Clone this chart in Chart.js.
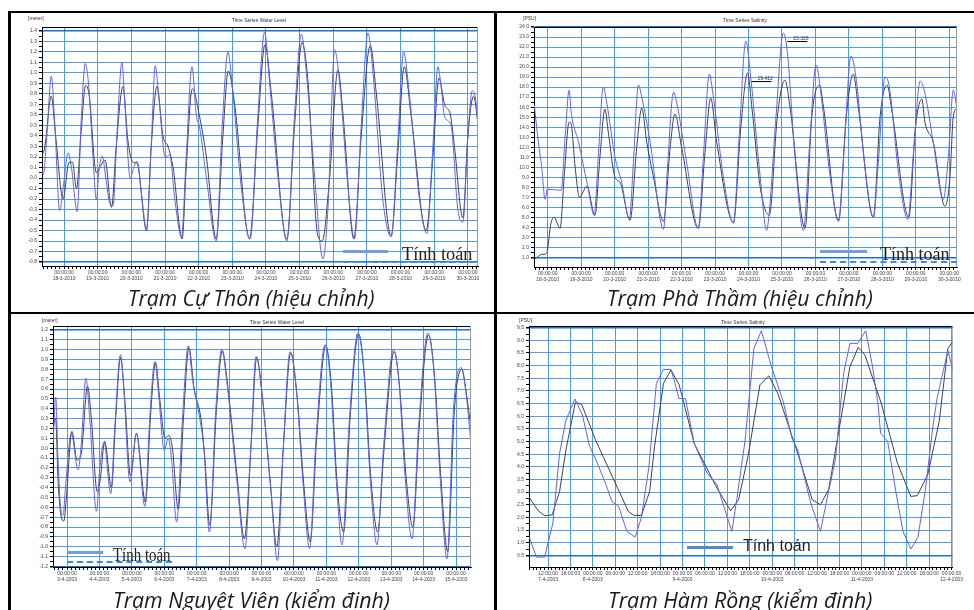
<!DOCTYPE html>
<html>
<head>
<meta charset="utf-8">
<script src="https://cdn.jsdelivr.net/npm/chart.js@4.4.1/dist/chart.umd.min.js"></script>
<style>
body { margin:0; width:974px; height:610px; position:relative; overflow:hidden; background:#fff; font-family:"Liberation Sans", Arial, sans-serif; }
.rule { position:absolute; background:#000; }
canvas { position:absolute; }
.title { position:absolute; font-size:5px; line-height:6px; color:#333; white-space:nowrap; transform:translateX(-50%); }
.unit { position:absolute; font-size:5px; line-height:6px; color:#333; white-space:nowrap; }
.cap { position:absolute; font-family:"Open Sans","Noto Sans",sans-serif; font-style:italic; font-size:22px; line-height:22px; color:#1a1a1a; white-space:nowrap; transform-origin:0 0; }
.lg-text { position:absolute; font-family:"Liberation Serif","DejaVu Serif",serif; font-size:18px; line-height:18px; color:#2a2010; white-space:nowrap; transform-origin:0 0; }
.lg-sans { position:absolute; font-family:"Liberation Sans",Arial,sans-serif; font-size:16px; line-height:16px; color:#222; white-space:nowrap; }
.lg-solid { position:absolute; height:3px; background:#6f9fe3; }
.lg-dash { position:absolute; height:0; border-top:2px dashed #2f8cf2; }
</style>
</head>
<body>
<canvas id="c1" width="470" height="264" style="left:12px;top:22px"></canvas>
<canvas id="c2" width="462" height="264" style="left:500px;top:22px"></canvas>
<canvas id="c3" width="463" height="268" style="left:12px;top:318px"></canvas>
<canvas id="c4" width="464" height="268" style="left:500px;top:318px"></canvas>

<div class="rule" style="left:8px;top:11px;width:3px;height:599px"></div>
<div class="rule" style="left:8px;top:11px;width:966px;height:2px"></div>
<div class="rule" style="left:494px;top:11px;width:3px;height:599px"></div>
<div class="rule" style="left:8px;top:312px;width:966px;height:2px"></div>

<div class="title" style="left:259px;top:17px">Time Series Water Level</div>
<div class="unit" style="left:28px;top:15px">[meter]</div>
<div class="title" style="left:745px;top:17px">Time Series Salinity</div>
<div class="unit" style="left:523px;top:15px">[PSU]</div>
<div class="title" style="left:277px;top:319px">Time Series Water Level</div>
<div class="unit" style="left:42px;top:317px">[meter]</div>
<div class="title" style="left:743px;top:319px">Time Series Salinity</div>
<div class="unit" style="left:519px;top:317px">[PSU]</div>

<div class="lg-solid" style="left:343px;top:250px;width:45px"></div>
<div class="lg-dash" style="left:343px;top:261px;width:132px"></div>
<div class="lg-text" data-w="71" style="left:402px;top:245px">Tính toán</div>

<div class="lg-solid" style="left:820px;top:250px;width:47px"></div>
<div class="lg-dash" style="left:820px;top:261px;width:137px"></div>
<div class="lg-text" data-w="70" style="left:880px;top:245px">Tính toán</div>

<div class="lg-solid" style="left:67px;top:551px;width:36px"></div>
<div class="lg-dash" style="left:67px;top:561px;width:105px"></div>
<div class="lg-text" data-w="58" style="left:113px;top:546px">Tính toán</div>

<div style="position:absolute;left:687px;top:546px;width:46px;height:3px;background:#5b86c5"></div>
<div class="lg-sans" style="left:743px;top:538px">Tính toán</div>

<div class="cap" data-w="247" style="left:128px;top:286px">Trạm Cự Thôn (hiệu chỉnh)</div>
<div class="cap" data-w="266" style="left:607px;top:286px">Trạm Phà Thầm (hiệu chỉnh)</div>
<div class="cap" data-w="277" style="left:113px;top:588px">Trạm Nguyệt Viên (kiểm định)</div>
<div class="cap" data-w="264" style="left:608px;top:588px">Trạm Hàm Rồng (kiểm định)</div>

<script>
// Tram Cu Thon - water level (m), x = day of March 2010
const cuThonCalc = [[17.33,0.10],[17.38,0.03],[17.50,0.45],[17.62,0.97],[17.72,0.55],[17.87,-0.31],[17.99,-0.05],[18.12,0.24],[18.22,0.10],[18.39,-0.32],[18.51,0.55],[18.63,1.09],[18.74,0.85],[18.86,0.20],[18.96,-0.21],[19.04,0.08],[19.14,0.21],[19.24,0.00],[19.36,-0.24],[19.46,-0.26],[19.57,0.40],[19.72,1.10],[19.80,0.75],[19.97,-0.01],[20.05,0.08],[20.17,0.16],[20.30,-0.15],[20.45,-0.49],[20.59,0.30],[20.71,1.07],[20.82,0.75],[21.01,0.20],[21.14,0.22],[21.29,-0.20],[21.49,-0.56],[21.63,0.20],[21.80,1.06],[21.93,0.60],[22.03,0.48],[22.23,0.00],[22.52,-0.60],[22.70,0.50],[22.87,1.20],[23.02,0.80],[23.27,-0.10],[23.53,-0.58],[23.76,0.60],[23.96,1.39],[24.11,0.90],[24.36,0.00],[24.62,-0.60],[24.85,0.60],[25.05,1.37],[25.20,1.00],[25.45,0.00],[25.69,-0.77],[25.84,-0.30],[26.04,1.22],[26.19,0.90],[26.44,-0.10],[26.63,-0.58],[26.83,0.50],[27.03,1.38],[27.18,1.00],[27.47,-0.20],[27.72,-0.56],[27.91,0.30],[28.09,1.20],[28.26,0.80],[28.56,-0.20],[28.78,-0.53],[28.96,0.30],[29.11,1.06],[29.21,0.85],[29.31,0.58],[29.50,0.50],[29.70,-0.30],[29.85,-0.42],[30.00,0.40],[30.13,0.83],[30.23,0.75],[30.30,0.50]];
const cuThonObs = [[17.33,0.20],[17.43,0.30],[17.62,0.78],[17.75,0.40],[17.97,-0.20],[18.15,0.15],[18.25,0.15],[18.37,-0.10],[18.51,0.45],[18.64,0.88],[18.74,0.80],[18.96,0.05],[19.06,0.10],[19.22,0.17],[19.41,-0.28],[19.55,0.30],[19.75,0.87],[19.90,0.35],[20.05,0.15],[20.17,0.14],[20.45,-0.50],[20.59,0.30],[20.76,0.87],[20.94,0.40],[21.09,0.30],[21.24,0.10],[21.51,-0.58],[21.63,0.10],[21.81,0.85],[22.03,0.58],[22.23,0.20],[22.52,-0.58],[22.72,0.40],[22.88,1.02],[23.07,0.70],[23.51,-0.58],[23.76,0.50],[23.97,1.27],[24.16,0.80],[24.62,-0.58],[24.85,0.50],[25.07,1.29],[25.24,0.95],[25.54,-0.55],[25.67,-0.60],[25.89,0.00],[26.14,1.03],[26.29,0.60],[26.61,-0.58],[26.83,0.40],[27.10,1.26],[27.28,0.80],[27.72,-0.55],[27.91,0.20],[28.11,1.06],[28.31,0.60],[28.76,-0.50],[28.96,0.20],[29.14,0.95],[29.31,0.70],[29.48,0.60],[29.60,0.30],[29.85,-0.38],[30.00,0.40],[30.17,0.78],[30.30,0.52]];
const cuThonYTicks = [-0.8,-0.7,-0.6,-0.5,-0.4,-0.3,-0.2,-0.1,0.0,0.1,0.2,0.3,0.4,0.5,0.6,0.7,0.8,0.9,1.0,1.1,1.2,1.3,1.4];

// Tram Pha Tham - salinity (PSU), x = day of March 2010
const phaThamCalc = [[17.60,16.2],[17.72,12.5],[17.82,10.0],[17.92,6.8],[17.99,7.8],[18.40,7.7],[18.52,13.0],[18.64,17.7],[18.70,15.5],[18.92,12.5],[19.19,8.2],[19.39,5.2],[19.51,11.0],[19.66,18.0],[19.76,16.5],[20.01,11.0],[20.21,8.5],[20.44,4.8],[20.56,10.5],[20.71,18.2],[20.81,17.0],[21.06,12.5],[21.46,3.8],[21.58,10.0],[21.76,17.5],[21.85,16.5],[22.15,10.5],[22.50,3.9],[22.65,11.0],[22.83,19.3],[22.93,17.5],[23.25,9.0],[23.55,4.4],[23.72,13.0],[23.92,22.6],[24.05,19.5],[24.35,9.0],[24.54,3.7],[24.62,5.5],[24.82,15.0],[25.04,23.4],[25.16,21.5],[25.39,11.0],[25.64,3.7],[25.82,12.0],[26.02,20.2],[26.14,18.0],[26.44,9.0],[26.69,4.7],[26.86,12.0],[27.06,21.1],[27.21,19.0],[27.48,10.0],[27.73,5.0],[27.88,10.5],[28.08,19.0],[28.21,18.0],[28.48,9.5],[28.76,4.8],[28.93,11.5],[29.13,18.6],[29.25,17.7],[29.52,12.5],[29.82,6.8],[29.97,11.0],[30.12,17.7],[30.23,15.8]];
const phaThamObs = [[17.60,0.8],[17.72,1.1],[17.82,1.3],[17.92,1.3],[17.99,1.7],[18.09,4.3],[18.19,5.0],[18.37,3.9],[18.49,9.0],[18.64,14.5],[18.70,14.3],[18.82,10.0],[18.95,7.0],[19.17,8.1],[19.41,5.2],[19.56,11.0],[19.71,15.8],[19.81,13.5],[20.01,9.0],[20.16,8.5],[20.46,4.7],[20.66,12.0],[20.81,15.9],[20.96,12.5],[21.16,9.0],[21.46,4.6],[21.66,12.0],[21.80,15.3],[22.00,12.0],[22.50,3.9],[22.70,11.5],[22.87,16.9],[23.05,12.5],[23.55,4.5],[23.77,14.0],[23.97,19.4],[24.10,16.0],[24.35,8.0],[24.62,5.2],[24.86,15.0],[25.09,18.7],[25.24,16.0],[25.69,3.9],[25.89,15.0],[26.12,18.2],[26.24,16.0],[26.69,4.6],[26.92,15.0],[27.13,19.3],[27.28,16.0],[27.73,5.0],[27.93,15.0],[28.14,18.2],[28.29,15.5],[28.79,5.0],[28.99,14.0],[29.18,16.8],[29.27,14.5],[29.52,12.5],[29.87,6.1],[30.02,9.0],[30.12,15.1],[30.23,15.9]];
const phaThamYTicks = [1,2,3,4,5,6,7,8,9,10,11,12,13,14,15,16,17,18,19,20,21,22,23,24];
const phaThamPeaks = [[25.04,23.4,'23.326'],[23.97,19.4,'19.412']];

const march2010 = ['18-3-2010','19-3-2010','20-3-2010','21-3-2010','22-3-2010','23-3-2010','24-3-2010','25-3-2010','26-3-2010','27-3-2010','28-3-2010','29-3-2010','30-3-2010'];
const marchDays = [18,19,20,21,22,23,24,25,26,27,28,29,30];

// Tram Nguyet Vien - water level (m), x = day of April 2003
const nguyetVienCalc = [[2.57,0.05],[2.65,0.52],[2.72,-0.10],[2.79,-0.56],[2.88,-0.68],[2.95,-0.40],[3.13,0.15],[3.34,-0.22],[3.44,0.05],[3.58,0.71],[3.70,0.30],[3.91,-0.64],[4.01,-0.20],[4.14,0.06],[4.35,-0.46],[4.47,0.20],[4.65,0.95],[4.75,0.60],[4.94,-0.34],[5.14,0.15],[5.40,-0.59],[5.55,0.30],[5.71,0.88],[5.81,0.60],[6.00,-0.02],[6.12,0.10],[6.22,-0.10],[6.38,-0.75],[6.56,0.30],[6.74,1.04],[6.87,0.70],[7.10,0.29],[7.22,0.00],[7.39,-0.85],[7.59,0.40],[7.77,1.00],[7.92,0.70],[8.23,-0.30],[8.49,-1.02],[8.67,0.00],[8.83,0.93],[9.00,0.60],[9.26,-0.30],[9.49,-1.14],[9.67,0.00],[9.88,0.98],[10.07,0.60],[10.29,-0.40],[10.48,-1.02],[10.68,0.10],[10.96,1.05],[11.12,0.70],[11.32,-0.40],[11.48,-0.98],[11.71,0.30],[11.97,1.17],[12.15,0.80],[12.35,-0.30],[12.56,-0.98],[12.76,0.00],[13.07,1.00],[13.23,0.70],[13.43,-0.30],[13.64,-0.92],[13.84,0.20],[14.13,1.17],[14.31,0.80],[14.51,-0.30],[14.72,-1.12],[14.92,0.40],[15.15,0.82],[15.29,0.60],[15.46,0.05]];
const nguyetVienObs = [[2.57,0.20],[2.65,0.30],[2.72,-0.30],[2.80,-0.65],[2.90,-0.74],[2.98,-0.50],[3.15,0.17],[3.31,-0.12],[3.44,-0.05],[3.63,0.63],[3.75,0.30],[3.93,-0.44],[4.03,-0.30],[4.16,0.07],[4.37,-0.40],[4.50,0.30],[4.65,0.92],[4.78,0.50],[4.96,-0.28],[5.14,0.15],[5.42,-0.55],[5.57,0.30],[5.73,0.87],[5.86,0.50],[6.02,0.10],[6.14,0.13],[6.25,0.00],[6.43,-0.62],[6.59,0.30],[6.76,1.02],[6.92,0.60],[7.13,0.30],[7.25,-0.10],[7.40,-0.78],[7.61,0.40],[7.79,0.99],[7.95,0.65],[8.25,-0.30],[8.47,-0.92],[8.67,0.00],[8.85,0.92],[9.03,0.50],[9.28,-0.40],[9.47,-1.00],[9.67,0.00],[9.90,0.97],[10.09,0.55],[10.31,-0.40],[10.50,-0.95],[10.70,0.10],[10.98,1.04],[11.15,0.65],[11.34,-0.40],[11.53,-0.85],[11.73,0.30],[11.99,1.16],[12.17,0.75],[12.37,-0.30],[12.58,-0.85],[12.78,0.00],[13.09,0.98],[13.25,0.65],[13.46,-0.30],[13.67,-0.80],[13.86,0.20],[14.15,1.15],[14.33,0.75],[14.53,-0.30],[14.74,-1.05],[14.95,0.40],[15.18,0.80],[15.32,0.55],[15.46,0.20]];
const nguyetVienYTicks = [-1.2,-1.1,-1.0,-0.9,-0.8,-0.7,-0.6,-0.5,-0.4,-0.3,-0.2,-0.1,0.0,0.1,0.2,0.3,0.4,0.5,0.6,0.7,0.8,0.9,1.0,1.1,1.2];
const april2003 = ['3-4-2003','4-4-2003','5-4-2003','6-4-2003','7-4-2003','8-4-2003','9-4-2003','10-4-2003','11-4-2003','12-4-2003','13-4-2003','14-4-2003','15-4-2003'];
const aprilDays = [3,4,5,6,7,8,9,10,11,12,13,14,15];

// Tram Ham Rong - salinity (PSU), x = hours from 7-4-2003 00:00
const hamRongCalc = [[6.9,1.25],[8.9,0.43],[11.1,0.43],[13.3,1.78],[15.1,4.54],[16.8,5.85],[19.2,6.68],[21.2,6.05],[23.0,4.87],[25.2,4.15],[27.5,3.30],[29.1,2.63],[30.9,2.43],[33.1,1.45],[35.3,1.22],[37.0,2.00],[39.0,4.00],[41.0,7.30],[42.9,7.85],[44.9,7.85],[46.0,7.30],[47.0,6.70],[48.8,6.70],[51.1,4.93],[54.6,3.75],[57.2,3.30],[59.9,2.04],[61.2,1.45],[62.5,2.70],[64.7,5.00],[67.1,8.68],[69.1,9.38],[71.7,8.00],[74.8,6.65],[77.3,5.13],[78.8,4.67],[82.3,2.57],[84.9,1.45],[86.7,2.76],[88.9,4.28],[91.1,7.70],[92.8,8.88],[94.9,8.88],[97.0,9.38],[98.8,8.00],[100.3,6.50],[101.0,5.33],[102.9,5.00],[105.1,3.00],[107.0,1.45],[109.1,0.75],[111.0,1.22],[113.0,3.10],[115.0,5.60],[116.1,6.70],[119.0,8.60],[120.3,7.83]];
const hamRongObs = [[6.9,2.80],[9.4,2.26],[11.1,2.07],[13.1,2.10],[15.1,3.03],[16.8,4.67],[19.3,6.54],[21.0,6.47],[24.7,5.07],[29.6,3.49],[33.5,2.24],[35.0,2.08],[37.0,2.08],[39.2,3.03],[40.5,4.80],[42.9,7.30],[44.9,7.83],[47.1,7.24],[51.1,4.93],[57.2,3.16],[60.9,2.26],[63.0,2.70],[65.6,4.47],[68.7,7.24],[71.1,7.60],[73.5,6.90],[78.8,4.54],[82.7,2.70],[84.9,2.50],[87.1,3.10],[92.8,7.96],[95.0,8.72],[96.8,8.42],[101.2,6.50],[105.5,4.15],[109.1,2.83],[110.8,2.86],[113.6,3.68],[116.7,5.80],[119.0,8.68],[120.3,8.95]];
const hamRongYTicks = [0.5,1.0,1.5,2.0,2.5,3.0,3.5,4.0,4.5,5.0,5.5,6.0,6.5,7.0,7.5,8.0,8.5,9.0,9.5];
const hamRongHours = [12,18,24,30,36,42,48,54,60,66,72,78,84,90,96,102,108,114,120];
const hamRongTimes = ['12:00:00','18:00:00','00:00:00','06:00:00','12:00:00','18:00:00','00:00:00','06:00:00','12:00:00','18:00:00','00:00:00','06:00:00','12:00:00','18:00:00','00:00:00','06:00:00','12:00:00','18:00:00','00:00:00'];
const hamRongDates = ['7-4-2003','','8-4-2003','','','','9-4-2003','','','','10-4-2003','','','','11-4-2003','','','','12-4-2003'];

const GRID = '#4f9be9';
const GRID_EDGE = '#1b6fe0';
const CALC = 'rgb(98,98,240)';
const OBS = 'rgb(66,66,66)';
const near = (a, b) => Math.abs(a - b) < 1e-6;

function stepTicks(min, max, step) {
  const out = [];
  for (let k = Math.ceil(min / step - 1e-9); k * step <= max + 1e-9; k++) out.push(+(k * step).toFixed(6));
  return out;
}

const framePlugin = {
  id: 'frame',
  afterDatasetsDraw(chart) {
    const a = chart.chartArea, c = chart.ctx;
    c.save();
    c.lineWidth = 1;
    c.strokeStyle = '#000';
    c.beginPath(); c.moveTo(a.left, a.top + 0.5); c.lineTo(a.right, a.top + 0.5); c.stroke();
    c.strokeStyle = '#9a9a9a';
    c.beginPath(); c.moveTo(a.right - 0.5, a.top); c.lineTo(a.right - 0.5, a.bottom); c.stroke();
    c.restore();
  }
};

const peakPlugin = {
  id: 'peaks',
  afterDatasetsDraw(chart, args, opts) {
    if (!opts.items) return;
    const c = chart.ctx, xs = chart.scales.x, ys = chart.scales.y;
    c.save();
    c.font = '5px "Liberation Sans"';
    c.fillStyle = '#333';
    c.strokeStyle = '#000';
    c.lineWidth = 1;
    opts.items.forEach(([t, v, label]) => {
      const px = xs.getPixelForValue(t), py = ys.getPixelForValue(v);
      c.fillText(label, px + 10, py + 7);
      c.beginPath(); c.moveTo(px + 4, py + 8.5); c.lineTo(px + 24, py + 8.5); c.stroke();
    });
    c.restore();
  }
};

function makeChart(id, cfg) {
  const yMinor = [];
  cfg.yTicks.forEach((v, i) => {
    yMinor.push(v);
    if (i < cfg.yTicks.length - 1) yMinor.push(+((v + cfg.yTicks[i + 1]) / 2).toFixed(6));
  });
  const yTop = cfg.yTicks[cfg.yTicks.length - 1], yBottom = cfg.yTicks[0];
  const tickFont = { size: 5, family: '"Liberation Sans", Arial, sans-serif' };
  return new Chart(document.getElementById(id), {
    type: 'line',
    data: {
      datasets: [
        { data: cfg.calc.map(p => ({ x: p[0], y: p[1] })), borderColor: CALC },
        { data: cfg.obs.map(p => ({ x: p[0], y: p[1] })), borderColor: OBS }
      ].map(d => Object.assign(d, {
        borderWidth: 1, pointRadius: 0, fill: false,
        tension: cfg.smooth ? 0.4 : 0,
        cubicInterpolationMode: cfg.smooth ? 'monotone' : 'default'
      }))
    },
    options: {
      responsive: false,
      animation: false,
      devicePixelRatio: 1,
      layout: { padding: { left: 0, top: cfg.padTop, right: cfg.padRight, bottom: 0 } },
      plugins: { legend: { display: false }, tooltip: { enabled: false }, peaks: { items: cfg.peaks } },
      scales: {
        x: {
          type: 'linear', min: cfg.xMin, max: cfg.xMax,
          afterFit: s => { s.height = cfg.xAxisH; },
          afterBuildTicks: s => { s.ticks = stepTicks(cfg.xMin, cfg.xMax, cfg.xMinorStep).map(v => ({ value: v })); },
          ticks: {
            autoSkip: false, maxRotation: 0, minRotation: 0, padding: 1,
            font: tickFont, color: '#444',
            callback: v => cfg.xLabel(v)
          },
          grid: {
            color: c => (c.tick && cfg.xLabel(c.tick.value) !== '') ? GRID : 'rgba(0,0,0,0)',
            tickColor: '#000', tickLength: 3, lineWidth: 1
          },
          border: { color: '#000', width: 1 }
        },
        y: {
          type: 'linear', min: cfg.yMin, max: cfg.yMax,
          afterFit: s => { s.width = cfg.yAxisW; },
          afterBuildTicks: s => { s.ticks = yMinor.map(v => ({ value: v })); },
          ticks: {
            autoSkip: false, padding: 2, font: tickFont, color: '#444',
            callback: v => cfg.yTicks.some(t => near(t, v)) ? v.toFixed(1) : ''
          },
          grid: {
            color: c => {
              if (!c.tick || !cfg.yTicks.some(t => near(t, c.tick.value))) return 'rgba(0,0,0,0)';
              return (near(c.tick.value, yTop) || near(c.tick.value, yBottom)) ? GRID_EDGE : GRID;
            },
            lineWidth: c => (c.tick && (near(c.tick.value, yTop) || near(c.tick.value, yBottom))) ? 1.5 : 1,
            tickColor: '#000', tickLength: 3
          },
          border: { color: '#000', width: 1 }
        }
      }
    },
    plugins: [framePlugin, peakPlugin]
  });
}

function dayLabel(days, dates) {
  return v => {
    const i = days.findIndex(d => near(d, v));
    return i < 0 ? '' : ['00:00:00', dates[i]];
  };
}

makeChart('c1', {
  calc: cuThonCalc, obs: cuThonObs, smooth: true,
  xMin: 17.345, xMax: 30.3, xMinorStep: 0.125, xLabel: dayLabel(marchDays, march2010),
  yMin: -0.838, yMax: 1.438, yTicks: cuThonYTicks,
  yAxisW: 30, xAxisH: 20, padTop: 3, padRight: 4
});

makeChart('c2', {
  calc: phaThamCalc, obs: phaThamObs, smooth: true, peaks: phaThamPeaks,
  xMin: 17.59, xMax: 30.23, xMinorStep: 0.125, xLabel: dayLabel(marchDays, march2010),
  yMin: 0.04, yMax: 24.0, yTicks: phaThamYTicks,
  yAxisW: 34, xAxisH: 19, padTop: 3, padRight: 5
});

makeChart('c3', {
  calc: nguyetVienCalc, obs: nguyetVienObs, smooth: true,
  xMin: 2.567, xMax: 15.46, xMinorStep: 0.125, xLabel: dayLabel(aprilDays, april2003),
  yMin: -1.205, yMax: 1.24, yTicks: nguyetVienYTicks,
  yAxisW: 41, xAxisH: 19, padTop: 8, padRight: 4
});

makeChart('c4', {
  calc: hamRongCalc, obs: hamRongObs, smooth: false,
  xMin: 6.91, xMax: 120.3, xMinorStep: 1,
  xLabel: v => {
    const i = hamRongHours.findIndex(h => near(h, v));
    if (i < 0) return '';
    return hamRongDates[i] ? [hamRongTimes[i], hamRongDates[i]] : hamRongTimes[i];
  },
  yMin: 0.04, yMax: 9.567, yTicks: hamRongYTicks,
  yAxisW: 29, xAxisH: 19, padTop: 8, padRight: 5
});

document.querySelectorAll('[data-w]').forEach(el => {
  el.style.transform = 'scaleX(' + (+el.dataset.w / el.offsetWidth) + ')';
});
</script>
</body>
</html>
